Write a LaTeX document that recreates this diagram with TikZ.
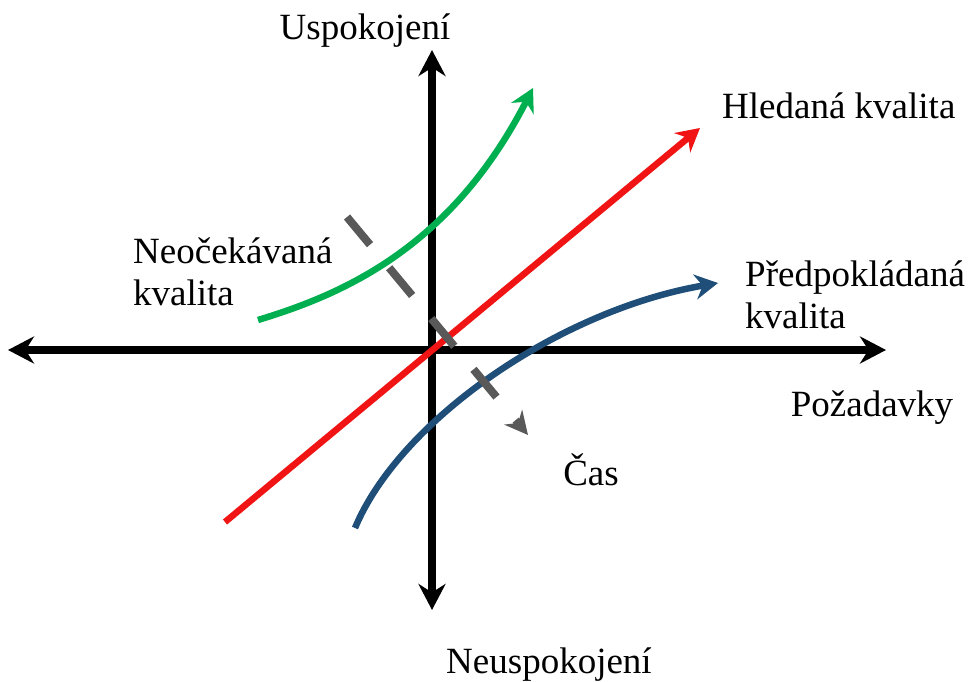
\documentclass[tikz,border=0pt]{standalone}
\usepackage{fontspec}
\setmainfont{Liberation Serif}
\usepackage{xcolor}
\definecolor{kaGreen}{HTML}{00B050}
\definecolor{kaRed}{HTML}{F01414}
\definecolor{kaBlue}{HTML}{1F4E79}
\definecolor{kaGray}{HTML}{595959}
\usepackage{tikz}
\usetikzlibrary{positioning,arrows.meta}

\begin{document}
\begin{tikzpicture}[
      x=1pt,y=-1pt,
      every node/.style={font=\fontsize{37}{42}\selectfont},
      lbl/.style={inner sep=0pt,align=left},
      axis/.style={{Stealth[length=26pt,width=27pt]}-{Stealth[length=26pt,width=27pt]},line width=7.5pt,black},
      quality/.style={-{Stealth[length=23pt,width=25pt]},line width=6.5pt},
      timeline/.style={-{Stealth[length=23pt,width=23pt]},line width=8pt,kaGray,dash pattern=on 36pt off 30pt},
    ]
    \useasboundingbox (0,0) rectangle (979,682);

    % Axis end points
    \coordinate (yTop) at (432,50);
    \coordinate (yBot) at (432,610);
    \coordinate (xLeft) at (8,350);
    \coordinate (xRight) at (886,350);

    % Labels
    \node[lbl,anchor=base] (satisfied) at (365,40) {Uspokojení};
    \node[lbl,anchor=base] (unsatisfied) at (549,673) {Neuspokojení};
    \node[lbl,anchor=base] (demands) at (872,416) {Požadavky};
    \node[lbl,anchor=base] (time) at (591,485) {Čas};
    \node[lbl,anchor=base west] (wanted) at (722,118) {Hledaná kvalita};
    \node[lbl,anchor=base west] (unexpected) at (133,305) {Neočekávaná\\kvalita};
    \node[lbl,anchor=base west] (expected) at (745,328) {Předpokládaná\\kvalita};

    % Curve end points
    \coordinate (redA) at (225,522);
    \coordinate (redB) at (700,128);
    \coordinate (greenA) at (258,320);
    \coordinate (greenB) at (533,88);
    \coordinate (blueA) at (355,528);
    \coordinate (blueB) at (718,283);
    \coordinate (timeA) at (347,217);
    \coordinate (timeB) at (528,435);

    % Axes
    \draw[axis] (yBot) -- (yTop);
    \draw[axis] (xLeft) -- (xRight);

    % Quality curves
    \draw[quality,kaRed] (redA) -- (redB);
    \draw[quality,kaGreen] (greenA) .. controls (340,295) and (450,250) .. (greenB);
    \draw[quality,kaBlue] (blueA) .. controls (400,420) and (560,310) .. (blueB);

    % Time arrow
    \draw[timeline] (timeA) -- (timeB);

  \end{tikzpicture}
\end{document}
